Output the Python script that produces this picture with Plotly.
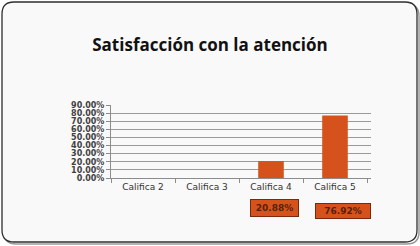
import plotly.graph_objects as go

# ---- data ----
categories = ["Califica 2", "Califica 3", "Califica 4", "Califica 5"]
values = [0.0, 0.0, 0.2088, 0.7692]
label_text = ["", "", "20.88%", "76.92%"]
y_ticks = [0.0, 0.1, 0.2, 0.3, 0.4, 0.5, 0.6, 0.7, 0.8, 0.9]
y_tick_labels = ["0.00%", "10.00%", "20.00%", "30.00%", "40.00%", "50.00%",
                 "60.00%", "70.00%", "80.00%", "90.00%"]
title_text = "Satisfacción con la atención"

# ---- layout geometry (pixels) ----
W, H = 420, 246
L, R, T, B = 111, 49, 105, 68
PW, PH = W - L - R, H - T - B

def px(x):
    return (x - L) / PW

def py(y):
    return (H - B - y) / PH

def rounded_path(x0, y0, x1, y1, r):
    pts = [
        f"M {px(x0 + r)} {py(y0)}",
        f"L {px(x1 - r)} {py(y0)}",
        f"Q {px(x1)} {py(y0)} {px(x1)} {py(y0 + r)}",
        f"L {px(x1)} {py(y1 - r)}",
        f"Q {px(x1)} {py(y1)} {px(x1 - r)} {py(y1)}",
        f"L {px(x0 + r)} {py(y1)}",
        f"Q {px(x0)} {py(y1)} {px(x0)} {py(y1 - r)}",
        f"L {px(x0)} {py(y0 + r)}",
        f"Q {px(x0)} {py(y0)} {px(x0 + r)} {py(y0)}",
        "Z",
    ]
    return " ".join(pts)

bar_color = "#D6521D"

fig = go.Figure()
fig.add_trace(go.Bar(
    x=categories, y=values,
    marker=dict(color=bar_color, line=dict(width=0)),
    width=0.4,
))

shapes = [
    # shadow
    dict(type="path", xref="paper", yref="paper", layer="below",
         path=rounded_path(4, 4, 419, 244, 12),
         fillcolor="rgba(0,0,0,0)", line=dict(color="#9a9a9a", width=1.5)),
    # card
    dict(type="path", xref="paper", yref="paper", layer="below",
         path=rounded_path(2, 2, 417, 242, 12),
         fillcolor="#f9f9f9", line=dict(color="#2e2e2e", width=1.3)),
]

label_offsets = [(0, 0), (0, 0), (3, -21), (8, -25)]
label_sizes = [(0, 0), (0, 0), (45, 14), (52, 12)]
annotations = []
for cat, txt, (dx, dy), (w, h) in zip(categories, label_text, label_offsets, label_sizes):
    if not txt:
        continue
    annotations.append(dict(
        x=cat, y=0, xref="x", yref="y", yanchor="top",
        text=txt, showarrow=False,
        xshift=dx, yshift=dy,
        width=w, height=h,
        bgcolor=bar_color, bordercolor="#7a2a0c", borderwidth=1, borderpad=1,
        font=dict(family="DejaVu Sans", size=9, color="#5a1f08", weight="bold"),
    ))

fig.update_layout(
    width=W, height=H,
    margin=dict(l=L, r=R, t=T, b=B, pad=0),
    paper_bgcolor="white",
    plot_bgcolor="rgba(0,0,0,0)",
    showlegend=False,
    bargap=0.6,
    title=dict(text="<b>" + title_text + "</b>", x=0.5, xref="container",
               y=1 - 45 / H, yref="container", yanchor="middle",
               font=dict(family="Open Sans", size=17, color="#111111")),
    shapes=shapes,
    annotations=annotations,
    xaxis=dict(
        type="category",
        showgrid=False,
        showline=True, linecolor="#8c8c8c", linewidth=1,
        ticks="outside", tickson="boundaries", ticklen=4, tickcolor="#8c8c8c",
        tickfont=dict(family="DejaVu Sans", size=9, color="#333333"),
        fixedrange=True,
    ),
    yaxis=dict(
        range=[0, 0.9],
        tickvals=y_ticks, ticktext=y_tick_labels,
        showgrid=True, gridcolor="#9a9a9a", gridwidth=1,
        showline=True, linecolor="#8c8c8c", linewidth=1,
        ticks="outside", ticklen=4, tickcolor="#8c8c8c",
        tickfont=dict(family="DejaVu Sans", size=8, color="#404040", weight="bold"),
        zeroline=False,
        fixedrange=True,
    ),
)

fig.write_html("out.html", config={"displayModeBar": False},
               post_script="document.body.style.margin='0';document.body.style.overflow='hidden';")
